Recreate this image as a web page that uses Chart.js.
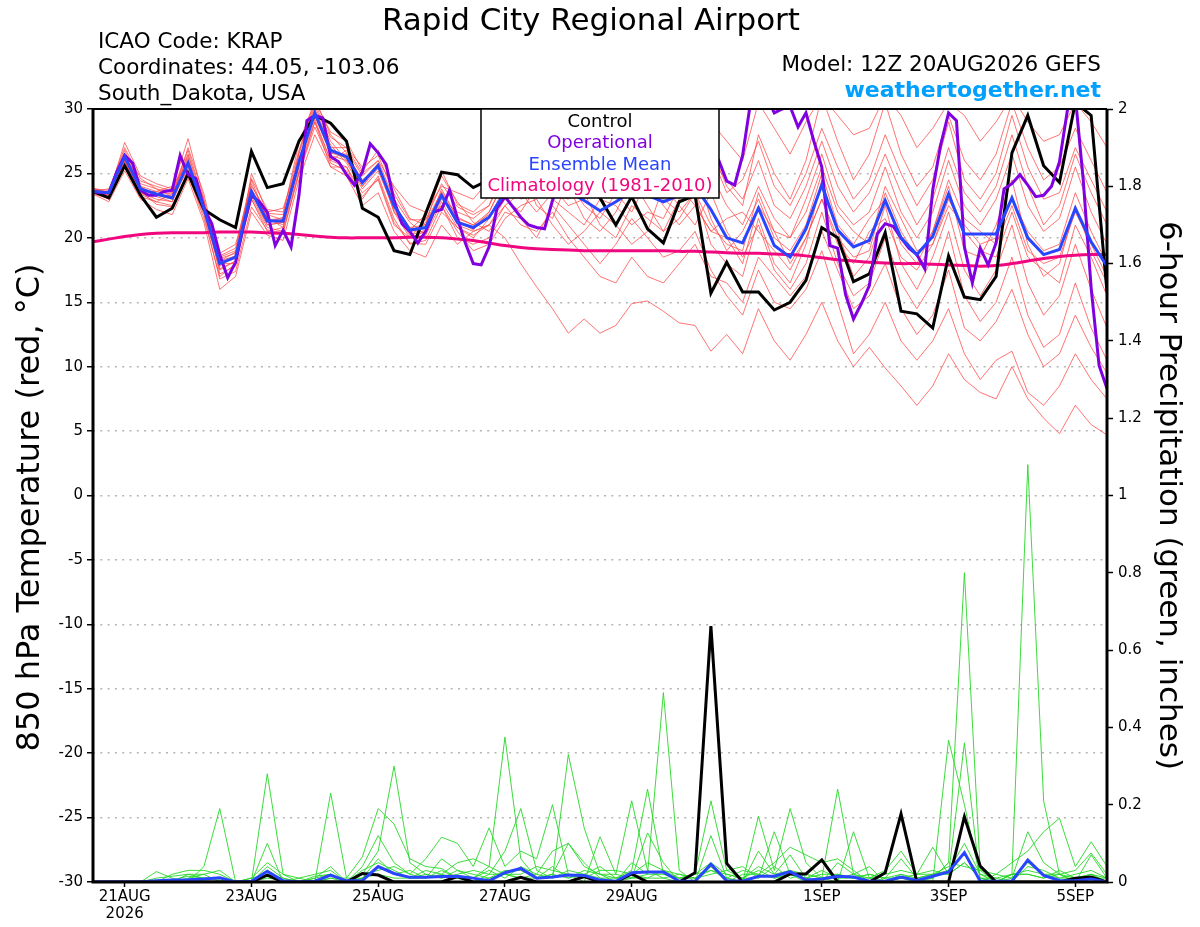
<!DOCTYPE html>
<html>
<head>
<meta charset="utf-8">
<script src="https://cdn.jsdelivr.net/npm/chart.js@4.4.1/dist/chart.umd.min.js"></script>
<style>
html, body { margin: 0; padding: 0; background: #fff; }
#wrap { width: 1200px; height: 927px; }
</style>
</head>
<body>
<div id="wrap"><canvas id="chart" width="1200" height="927" style="width:1200px;height:927px"></canvas></div>
<script>
// 6-hourly steps from 12Z 20AUG2026 (65 points), operational run is 3-hourly (129 points)

const xTickHours = [12, 60, 108, 156, 204, 276, 324, 372];
const xTickLabels = [["21AUG", "2026"], "23AUG", "25AUG", "27AUG", "29AUG", "1SEP", "3SEP", "5SEP"];

// 850 hPa temperature, C

const controlTemp = [
  23.6, 23.1, 25.6, 23.3, 21.6, 22.3, 25.0, 22.2, 21.4, 20.8,
  26.7, 23.9, 24.2, 27.5, 29.5, 28.9, 27.5, 22.3, 21.6, 19.0,
  18.7, 21.9, 25.1, 24.9, 23.9, 24.5, 25.5, 24.8, 25.5, 26.0,
  25.0, 24.0, 23.1, 21.0, 23.2, 20.7, 19.6, 22.8, 23.3, 15.7,
  18.1, 15.8, 15.8, 14.4, 15.0, 16.7, 20.8, 20.0, 16.6, 17.2,
  20.4, 14.3, 14.1, 13.0, 18.6, 15.4, 15.2, 17.0, 26.6, 29.5,
  25.6, 24.3, 30.5, 29.5, 15.8
];

const meanTemp = [
  23.6, 23.5, 26.3, 23.8, 23.4, 23.1, 25.8, 22.3, 18.0, 18.5,
  23.6, 21.3, 21.3, 25.9, 29.7, 26.8, 26.3, 24.3, 25.6, 22.5,
  20.6, 20.8, 23.3, 21.2, 20.8, 21.6, 23.5, 24.0, 23.8, 24.2,
  23.6, 22.9, 22.1, 22.8, 23.6, 23.3, 22.8, 23.3, 24.0, 22.2,
  20.0, 19.6, 22.3, 19.4, 18.5, 20.7, 24.1, 20.6, 19.3, 19.8,
  22.9, 20.0, 18.7, 20.1, 23.4, 20.3, 20.3, 20.3, 23.1, 20.0,
  18.7, 19.1, 22.3, 19.7, 17.8
];

const climTemp = [
  19.7, 19.9, 20.1, 20.25, 20.35, 20.4, 20.4, 20.4, 20.45, 20.45,
  20.45, 20.4, 20.35, 20.25, 20.15, 20.05, 20.0, 20.0, 20.0, 20.0,
  20.05, 20.05, 20.0, 19.9, 19.8, 19.6, 19.4, 19.25, 19.15, 19.1,
  19.05, 19.0, 19.0, 19.0, 19.0, 19.0, 19.0, 18.95, 18.95, 18.9,
  18.85, 18.8, 18.8, 18.75, 18.7, 18.6, 18.45, 18.3, 18.2, 18.1,
  18.05, 18.0, 18.0, 17.95, 17.9, 17.85, 17.8, 17.85, 18.0, 18.2,
  18.4, 18.55, 18.65, 18.7, 18.7
];

// operational, 3-hourly, one row per day
const opTemp = [
  23.6, 23.5, 23.5, 25.1, 26.4, 25.8, 23.7, 23.3,
  23.3, 23.6, 23.7, 26.4, 24.9, 24.6, 22.3, 21.1,
  18.7, 16.9, 18.1, 20.9, 23.3, 22.8, 22.0, 19.4,
  20.6, 19.3, 23.3, 29.1, 29.5, 29.3, 26.3, 25.9,
  24.9, 24.1, 25.1, 27.3, 26.6, 25.7, 22.9, 21.1,
  20.5, 19.6, 20.5, 22.0, 22.2, 23.7, 21.5, 19.6,
  18.0, 17.9, 19.3, 22.3, 23.2, 22.4, 21.6, 21.0,
  20.8, 20.7, 22.9, 24.5, 25.5, 26.0, 25.0, 24.5,
  25.5, 26.5, 26.0, 25.0, 25.5, 26.0, 25.5, 24.5,
  25.0, 26.0, 25.5, 25.0, 25.5, 26.5, 27.0, 26.0,
  24.4, 24.1, 26.4, 30.5, 31.0, 31.0, 29.7, 30.0,
  30.2, 28.6, 29.7, 27.5, 25.5, 19.4, 19.2, 15.6,
  13.7, 14.9, 16.3, 20.3, 21.1, 20.9, 20.0, 19.2,
  18.7, 17.6, 23.7, 27.2, 29.7, 29.1, 19.3, 16.5,
  19.2, 17.9, 19.6, 23.8, 24.2, 24.9, 24.1, 23.2,
  23.3, 24.0, 25.9, 29.9, 31.0, 24.5, 16.1, 10.1,
  8.3
];

// ensemble members (temperature)
const m01 = [
  23.9, 23.4, 27.4, 24.8, 24.2, 23.8, 27.7, 23.0, 17.2, 17.8,
  25.0, 21.9, 21.8, 27.4, 30.6, 28.2, 27.5, 25.2, 26.8, 23.8,
  21.5, 21.0, 25.2, 22.6, 22.0, 23.2, 26.8, 25.4, 25.0, 27.5,
  26.0, 24.5, 23.5, 26.2, 28.4, 26.5, 25.0, 27.0, 30.5, 27.0,
  24.0, 22.5, 28.0, 25.0, 23.0, 26.0, 31.0, 27.5, 24.5, 26.5,
  30.5, 26.5, 24.0, 25.5, 29.5, 26.0, 24.5, 26.5, 30.5, 27.0,
  24.5, 25.5, 28.5, 26.0, 23.5
];
const m02 = [
  23.4, 22.8, 25.2, 23.0, 22.2, 21.8, 24.6, 21.2, 16.0, 17.0,
  22.0, 20.2, 19.8, 24.5, 28.0, 25.5, 24.8, 22.5, 23.5, 20.5,
  19.0, 18.5, 21.0, 19.5, 20.5, 21.0, 20.0, 18.0, 16.2, 14.5,
  12.6, 13.7, 12.6, 13.2, 14.9, 15.1, 14.3, 13.4, 13.2, 11.2,
  12.5, 11.0, 14.5, 12.0, 10.5, 12.5, 15.0, 12.0, 10.0, 11.5,
  9.9, 8.5, 7.0, 8.5, 11.0, 9.0, 8.0, 7.5, 10.0, 7.5,
  6.0, 4.8, 7.0, 5.5, 4.7
];
const m03 = [
  23.7, 23.0, 26.0, 23.5, 23.0, 22.8, 25.5, 22.0, 17.5, 18.2,
  23.0, 20.8, 20.5, 25.0, 29.0, 26.0, 25.5, 23.0, 24.8, 21.5,
  19.5, 19.8, 22.5, 20.0, 19.5, 20.0, 22.0, 21.5, 20.0, 22.5,
  21.0, 19.5, 18.0, 19.5, 21.5, 20.0, 18.5, 19.0, 20.5, 17.5,
  15.5, 14.0, 17.5, 15.0, 14.5, 16.0, 19.0, 15.0, 11.0, 12.5,
  15.0, 12.0, 10.5, 12.0, 14.5, 11.0, 9.0, 10.5, 11.2, 8.0,
  7.0, 8.5, 11.0, 9.0, 7.5
];
const m04 = [
  23.5, 23.6, 26.8, 24.2, 23.8, 23.5, 26.5, 22.8, 18.5, 19.0,
  24.2, 21.5, 21.0, 26.5, 30.2, 27.5, 26.0, 24.0, 25.8, 22.0,
  20.0, 20.5, 23.8, 21.5, 21.0, 22.0, 24.5, 23.0, 23.5, 25.5,
  24.0, 21.5, 20.5, 22.0, 24.5, 22.5, 20.5, 21.5, 23.5, 19.5,
  18.0, 17.0, 21.5, 18.0, 16.5, 19.5, 24.5, 20.5, 17.0, 18.5,
  22.5, 18.0, 16.0, 18.5, 22.0, 17.5, 15.5, 17.5, 21.0, 16.5,
  14.0, 15.5, 19.5, 16.0, 13.0
];
const m05 = [
  23.6, 23.8, 26.5, 24.0, 23.6, 24.0, 25.8, 22.5, 18.8, 19.5,
  24.0, 22.0, 22.3, 26.0, 29.5, 27.0, 27.0, 25.0, 26.0, 24.0,
  22.5, 22.0, 24.0, 23.5, 23.0, 24.5, 27.5, 26.0, 26.5, 29.0,
  28.0, 26.5, 25.5, 28.5, 30.5, 29.0, 27.5, 29.5, 31.0, 29.0,
  27.5, 26.0, 30.5, 28.5, 26.5, 29.0, 31.0, 29.5, 28.0, 28.5,
  31.0, 29.5, 27.0, 28.5, 30.5, 29.5, 27.5, 29.0, 31.0, 29.0,
  27.5, 28.0, 30.5, 29.0, 27.0
];
const m06 = [
  23.5, 23.2, 26.0, 23.2, 22.8, 22.5, 25.0, 21.5, 17.0, 18.0,
  23.0, 20.5, 20.8, 25.2, 29.0, 25.5, 25.5, 23.5, 24.5, 21.0,
  20.0, 21.5, 22.5, 20.5, 19.0, 19.5, 21.5, 22.5, 23.0, 21.0,
  19.5, 20.5, 22.0, 21.0, 19.5, 20.5, 24.0, 22.5, 21.0, 23.5,
  20.5, 18.5, 21.0, 17.5, 16.0, 18.0, 22.0, 18.0, 15.5, 16.5,
  20.0, 16.5, 14.5, 16.5, 20.5, 15.5, 13.5, 15.0, 18.5, 14.0,
  11.5, 12.5, 16.5, 13.0, 10.5
];
const m07 = [
  23.8, 23.5, 26.2, 23.8, 23.3, 23.0, 25.8, 22.2, 18.2, 18.6,
  23.5, 21.2, 21.6, 26.0, 29.8, 26.6, 26.5, 24.5, 25.5, 22.6,
  20.8, 21.0, 23.5, 21.0, 20.5, 21.0, 23.0, 24.5, 25.5, 24.0,
  22.5, 23.0, 24.5, 23.5, 22.0, 24.5, 26.0, 24.5, 23.5, 25.0,
  22.5, 21.0, 24.0, 21.5, 20.0, 23.0, 26.5, 22.5, 21.0, 22.0,
  25.5, 22.0, 20.0, 22.0, 26.0, 22.5, 21.0, 23.0, 26.5, 22.5,
  20.5, 21.5, 25.5, 22.0, 19.5
];
const m08 = [
  23.6, 23.3, 25.6, 23.6, 23.6, 23.4, 25.2, 22.6, 18.4, 18.8,
  23.2, 21.0, 21.2, 25.5, 29.2, 26.0, 26.8, 24.8, 26.0, 23.0,
  21.2, 20.2, 22.8, 20.8, 20.0, 21.5, 24.0, 25.5, 22.5, 21.5,
  24.5, 23.5, 21.0, 20.0, 22.5, 21.5, 20.5, 23.0, 25.5, 21.5,
  19.0, 20.5, 23.0, 20.0, 19.0, 21.0, 25.0, 21.0, 19.5, 21.5,
  23.0, 19.5, 18.0, 20.5, 24.0, 19.0, 18.5, 21.0, 24.5, 19.5,
  17.0, 18.0, 22.5, 19.0, 16.5
];
const m09 = [
  23.4, 23.1, 26.6, 23.4, 22.8, 23.4, 26.2, 22.0, 17.6, 18.2,
  23.8, 21.6, 20.8, 25.8, 30.0, 27.2, 25.8, 23.8, 25.2, 22.2,
  20.2, 20.6, 23.0, 22.0, 21.5, 22.5, 25.0, 24.0, 24.5, 26.5,
  25.0, 24.0, 23.0, 24.0, 26.5, 24.0, 23.0, 22.0, 23.5, 21.0,
  19.5, 19.0, 23.5, 20.5, 20.0, 22.0, 25.5, 22.0, 20.5, 19.5,
  24.0, 21.5, 19.0, 19.5, 23.0, 20.5, 19.0, 18.5, 22.0, 18.5,
  17.5, 16.5, 21.0, 18.5, 15.5
];
const m10 = [
  23.7, 23.6, 25.9, 24.0, 23.2, 22.8, 26.0, 22.6, 18.2, 18.9,
  24.5, 21.4, 21.5, 26.2, 29.4, 26.6, 26.2, 24.0, 25.4, 22.8,
  20.4, 21.2, 23.6, 21.6, 21.0, 21.8, 23.0, 22.0, 24.0, 23.0,
  22.0, 21.0, 23.0, 22.5, 21.0, 22.0, 21.5, 24.0, 22.5, 20.5,
  21.5, 22.0, 20.5, 19.0, 17.5, 20.0, 23.0, 19.5, 18.0, 20.5,
  21.5, 18.5, 17.5, 19.5, 22.5, 21.0, 19.5, 20.0, 23.0, 20.5,
  19.0, 19.5, 23.5, 20.5, 18.0
];
const m11 = [
  23.6, 23.4, 26.4, 24.4, 24.0, 23.6, 26.8, 22.9, 18.6, 19.2,
  24.6, 22.2, 22.0, 26.8, 30.4, 27.8, 27.0, 25.5, 26.4, 23.4,
  21.4, 21.4, 24.2, 22.4, 21.8, 22.5, 25.5, 26.5, 27.0, 25.5,
  26.5, 27.5, 26.0, 25.0, 27.0, 28.0, 26.0, 25.5, 28.0, 26.5,
  23.5, 24.5, 27.5, 24.0, 22.5, 25.0, 28.5, 25.5, 23.0, 24.5,
  28.0, 25.0, 22.5, 24.5, 29.0, 24.5, 23.0, 25.0, 29.5, 25.5,
  23.0, 23.5, 27.0, 24.5, 22.0
];
const m12 = [
  23.5, 23.0, 26.1, 23.6, 22.6, 22.4, 24.8, 21.8, 16.8, 17.4,
  22.4, 20.6, 20.4, 25.0, 28.6, 25.8, 25.2, 23.2, 24.6, 21.2,
  19.6, 19.5, 22.0, 20.8, 20.2, 21.0, 22.5, 21.0, 20.5, 22.0,
  20.0, 18.5, 17.0, 16.5, 18.5, 17.0, 16.5, 18.0, 19.5, 17.0,
  16.5, 15.0, 18.5, 17.0, 15.5, 17.0, 20.5, 17.5, 14.5, 15.5,
  18.0, 14.5, 12.5, 14.0, 17.5, 13.0, 12.0, 13.5, 16.0, 12.5,
  10.0, 11.0, 14.0, 11.5, 9.5
];
const m13 = [
  23.8, 23.7, 27.0, 24.6, 23.8, 23.2, 27.0, 23.4, 18.0, 18.0,
  23.4, 21.8, 21.4, 26.6, 30.8, 28.0, 26.6, 24.4, 25.8, 22.4,
  20.6, 21.8, 24.8, 22.8, 21.2, 20.5, 22.5, 23.5, 22.0, 23.5,
  23.0, 25.5, 27.0, 24.5, 23.0, 25.0, 27.5, 26.5, 24.5, 26.0,
  24.5, 23.0, 26.0, 22.5, 21.5, 24.0, 27.5, 24.0, 22.0, 23.5,
  26.5, 23.5, 21.0, 23.0, 27.0, 23.5, 22.0, 24.0, 28.0, 24.0,
  21.0, 22.5, 26.5, 23.5, 21.0
];
const m14 = [
  23.5, 23.3, 26.0, 23.4, 23.4, 23.2, 26.4, 22.4, 17.8, 18.6,
  23.6, 21.0, 21.2, 25.6, 29.6, 26.4, 26.0, 24.2, 25.6, 22.0,
  20.6, 20.4, 23.4, 21.4, 20.6, 22.0, 24.5, 25.0, 26.0, 25.0,
  24.5, 22.5, 21.5, 23.5, 25.5, 24.5, 22.5, 21.0, 22.5, 20.5,
  20.0, 18.0, 22.5, 20.5, 18.0, 20.0, 23.0, 20.0, 18.5, 19.0,
  23.5, 20.5, 18.5, 20.5, 24.5, 21.5, 20.5, 19.5, 22.5, 19.0,
  18.0, 18.5, 22.0, 19.5, 17.0
];
const tempMembers = [m01, m02, m03, m04, m05, m06, m07, m08, m09, m10, m11, m12, m13, m14];

// 6-hour precipitation, inches

const controlPrecip = [
  0, 0, 0, 0, 0, 0, 0, 0, 0, 0,
  0, 0.018, 0, 0, 0, 0, 0, 0.022, 0.018, 0,
  0, 0, 0, 0.014, 0, 0, 0, 0.012, 0, 0,
  0, 0.014, 0, 0, 0.021, 0, 0, 0, 0.024, 0.662,
  0.048, 0, 0, 0, 0.021, 0.021, 0.057, 0, 0, 0,
  0.024, 0.176, 0, 0, 0, 0.169, 0.041, 0, 0, 0,
  0, 0, 0.01, 0.013, 0
];

const meanPrecip = [
  0, 0, 0, 0, 0.003, 0.005, 0.006, 0.008, 0.011, 0,
  0.002, 0.028, 0.003, 0, 0.002, 0.018, 0.003, 0.004, 0.040, 0.022,
  0.012, 0.012, 0.014, 0.015, 0.010, 0.003, 0.024, 0.035, 0.010, 0.013,
  0.018, 0.017, 0.005, 0.002, 0.024, 0.026, 0.026, 0.002, 0.002, 0.046,
  0.003, 0.002, 0.015, 0.015, 0.027, 0.005, 0.008, 0.015, 0.013, 0.002,
  0.002, 0.013, 0.004, 0.015, 0.026, 0.076, 0.002, 0.002, 0.002, 0.057,
  0.017, 0.004, 0.003, 0.008, 0
];

const g01 = [
  0, 0, 0, 0, 0.027, 0.01, 0, 0.04, 0.19, 0,
  0, 0.28, 0.02, 0, 0.01, 0.04, 0, 0.02, 0.08, 0.30,
  0.05, 0.02, 0.01, 0.03, 0.01, 0.04, 0.375, 0.06, 0.01, 0.02,
  0.1, 0.05, 0.01, 0, 0.05, 0.02, 0.49, 0.03, 0, 0.04,
  0.01, 0, 0.08, 0.02, 0.07, 0.01, 0, 0.05, 0.02, 0,
  0, 0.02, 0, 0.01, 0.05, 0.80, 0.03, 0, 0.01, 0.13,
  0.05, 0.02, 0, 0.07, 0.01
];
const g02 = [
  0, 0, 0, 0, 0, 0.02, 0.03, 0.03, 0.02, 0,
  0, 0.1, 0, 0, 0, 0.23, 0.01, 0.065, 0.19, 0.15,
  0.06, 0.04, 0.035, 0.01, 0, 0.02, 0.08, 0.19, 0.03, 0.01,
  0.33, 0.14, 0.02, 0, 0.01, 0.127, 0.05, 0, 0.02, 0.21,
  0.03, 0.04, 0.01, 0.13, 0.02, 0, 0.01, 0.24, 0.02, 0.04,
  0, 0.01, 0, 0, 0.367, 0.2, 0.01, 0, 0.02, 1.08,
  0.21, 0.02, 0, 0.02, 0
];
const g03 = [
  0, 0, 0, 0, 0, 0, 0.02, 0.02, 0.03, 0,
  0.01, 0.05, 0.02, 0.01, 0.02, 0.03, 0, 0.04, 0.12, 0.05,
  0.02, 0.06, 0.116, 0.10, 0.04, 0.14, 0.04, 0.08, 0.06, 0.2,
  0.02, 0, 0.117, 0.02, 0.21, 0.03, 0.01, 0, 0, 0.12,
  0.01, 0, 0.17, 0.03, 0.19, 0.05, 0.01, 0, 0.13, 0.01,
  0.03, 0.08, 0.02, 0.09, 0.02, 0.36, 0, 0.02, 0.05, 0.08,
  0.13, 0.165, 0.04, 0.104, 0.04
];
const g04 = [
  0, 0, 0, 0, 0.01, 0.015, 0.02, 0.01, 0.01, 0,
  0, 0.03, 0, 0, 0.015, 0.02, 0, 0.01, 0.06, 0.02,
  0.01, 0.03, 0.02, 0.05, 0.06, 0.04, 0.02, 0.01, 0.02, 0.08,
  0.1, 0.04, 0.02, 0.01, 0.03, 0.24, 0.02, 0.01, 0.01, 0.04,
  0, 0.02, 0.02, 0.05, 0.09, 0.07, 0.05, 0.06, 0.03, 0,
  0.01, 0.06, 0.01, 0.02, 0.03, 0.1, 0.02, 0, 0.02, 0.03,
  0.02, 0.02, 0.03, 0.075, 0.02
];
const g05 = [
  0, 0, 0, 0, 0, 0, 0.01, 0.02, 0, 0,
  0.01, 0.02, 0.01, 0, 0, 0.01, 0, 0.02, 0.03, 0.04,
  0.02, 0.01, 0.06, 0.03, 0.02, 0.01, 0.03, 0.03, 0.01, 0.02,
  0.01, 0.02, 0.04, 0.01, 0.02, 0.05, 0.03, 0.01, 0.02, 0.03,
  0.02, 0.01, 0.04, 0.02, 0.03, 0.02, 0.01, 0.02, 0.01, 0.02,
  0.01, 0.02, 0.01, 0.01, 0.05, 0.04, 0.03, 0.02, 0.01, 0.05,
  0.02, 0.01, 0.02, 0.03, 0.01
];
const g06 = [
  0, 0, 0, 0, 0, 0.005, 0.015, 0.01, 0.005, 0,
  0, 0.04, 0.01, 0, 0, 0.02, 0, 0.03, 0.05, 0.03,
  0.01, 0.02, 0.01, 0.02, 0.03, 0.02, 0.02, 0.02, 0.04, 0.03,
  0.02, 0.01, 0.03, 0.03, 0.02, 0.01, 0.01, 0.02, 0.01, 0.03,
  0.01, 0.03, 0.02, 0.01, 0.02, 0.01, 0.02, 0.02, 0.01, 0.01,
  0.02, 0.03, 0.02, 0.03, 0.02, 0.05, 0.01, 0, 0.02, 0.02,
  0.01, 0.03, 0.01, 0.02, 0
];
const g07 = [
  0, 0, 0, 0, 0, 0, 0.005, 0.01, 0.01, 0,
  0, 0.02, 0, 0.01, 0, 0.01, 0.01, 0.01, 0.04, 0.02,
  0.03, 0.01, 0.02, 0.01, 0.01, 0.03, 0.01, 0.04, 0.02, 0.01,
  0.03, 0.02, 0.01, 0.01, 0.01, 0.02, 0.02, 0.01, 0.02, 0.05,
  0.02, 0.01, 0.01, 0.04, 0.01, 0.02, 0.01, 0.01, 0.02, 0.01,
  0, 0.01, 0.02, 0.02, 0.04, 0.07, 0.02, 0.01, 0, 0.04,
  0.03, 0.01, 0.01, 0.01, 0.01
];
const g08 = [
  0, 0, 0, 0, 0, 0, 0, 0.005, 0.01, 0,
  0, 0.01, 0.005, 0, 0.01, 0.02, 0, 0.01, 0.02, 0.01,
  0.01, 0.01, 0.03, 0.01, 0, 0.01, 0.02, 0.01, 0.01, 0.04,
  0.01, 0.03, 0.02, 0.02, 0.01, 0.01, 0.03, 0.02, 0.01, 0.02,
  0.03, 0.01, 0.03, 0.01, 0.02, 0.01, 0.03, 0.01, 0.01, 0.02,
  0.01, 0.01, 0.01, 0.02, 0.02, 0.05, 0.01, 0.01, 0.02, 0.02,
  0.01, 0.02, 0.01, 0.02, 0.01
];
const precipMembers = [g01, g02, g03, g04, g05, g06, g07, g08];


// HELPERS

const sixHourly = (arr) => arr.map((v, i) => ({ x: i * 6, y: v }));
const threeHourly = (arr) => arr.map((v, i) => ({ x: i * 3, y: v }));

const FONT = "DejaVu Sans";
Chart.defaults.font.family = FONT;
Chart.defaults.color = "#000";

function thinLine(data, color, axis) {
  return {
    data: sixHourly(data),
    yAxisID: axis,
    borderColor: color,
    borderWidth: 1,
    pointRadius: 0,
    tension: 0,
    order: 10
  };
}

function thickLine(data, color, axis, order) {
  return {
    data: data,
    yAxisID: axis,
    borderColor: color,
    borderWidth: 3,
    pointRadius: 0,
    tension: 0,
    order: order
  };
}


// DATASETS

const datasets = [];

tempMembers.forEach(m => datasets.push(thinLine(m, "rgba(255,70,70,0.75)", "y")));
precipMembers.forEach(m => datasets.push(thinLine(m, "rgba(40,215,40,0.9)", "y2")));

datasets.push(thickLine(sixHourly(controlPrecip), "#000000", "y2", 4));
datasets.push(thickLine(sixHourly(meanPrecip), "#2a45ff", "y2", 3));

const clim = thickLine(sixHourly(climTemp), "#f0077f", "y", 5);
clim.tension = 0.4;
datasets.push(clim);

datasets.push(thickLine(sixHourly(controlTemp), "#000000", "y", 3));
datasets.push(thickLine(threeHourly(opTemp), "#8000e0", "y", 2));
datasets.push(thickLine(sixHourly(meanTemp), "#2a45ff", "y", 1));


// TEXT, FRAME AND LEGEND BOX

const decorations = {

  id: "decorations",

  afterDraw(chart) {

    const c = chart.ctx;
    const a = chart.chartArea;

    c.save();

    // frame
    c.strokeStyle = "#000";
    c.lineWidth = 3;
    c.beginPath();
    c.moveTo(a.left, a.top);
    c.lineTo(a.left, a.bottom);
    c.lineTo(a.right, a.bottom);
    c.lineTo(a.right, a.top);
    c.stroke();
    c.lineWidth = 2;
    c.beginPath();
    c.moveTo(a.left, a.top);
    c.lineTo(a.right, a.top);
    c.stroke();

    // legend box
    c.fillStyle = "#fff";
    c.fillRect(481, 109, 238, 89);
    c.lineWidth = 1.5;
    c.strokeRect(481, 109, 238, 89);

    c.textAlign = "center";
    c.textBaseline = "alphabetic";
    c.font = "18px '" + FONT + "'";
    c.fillStyle = "#000";
    c.fillText("Control", 600, 127);
    c.fillStyle = "#8000e0";
    c.fillText("Operational", 600, 148);
    c.fillStyle = "#2a45ff";
    c.fillText("Ensemble Mean", 600, 169.5);
    c.fillStyle = "#f0077f";
    c.fillText("Climatology (1981-2010)", 600, 191);

    // title
    c.fillStyle = "#000";
    c.font = "31px '" + FONT + "'";
    c.fillText("Rapid City Regional Airport", 591, 30);

    // station info
    c.textAlign = "left";
    c.font = "21.5px '" + FONT + "'";
    c.fillText("ICAO Code: KRAP", 98, 48);
    c.fillText("Coordinates: 44.05, -103.06", 98, 74);
    c.fillText("South_Dakota, USA", 98, 100);

    c.textAlign = "right";
    c.fillText("Model: 12Z 20AUG2026 GEFS", 1101, 71);
    c.fillStyle = "#00a0ff";
    c.font = "bold 22px '" + FONT + "'";
    c.fillText("weathertogether.net", 1101, 97);

    // axis titles
    c.fillStyle = "#000";
    c.textAlign = "center";
    c.textBaseline = "middle";

    c.save();
    c.font = "32px '" + FONT + "'";
    c.translate(31, (a.top + a.bottom) / 2 + 12);
    c.rotate(-Math.PI / 2);
    c.fillText("850 hPa Temperature (red, \u00b0C)", 0, 0);
    c.restore();

    c.save();
    c.font = "31px '" + FONT + "'";
    c.translate(1168, (a.top + a.bottom) / 2);
    c.rotate(Math.PI / 2);
    c.fillText("6-hour Precipitation (green, inches)", 0, 0);
    c.restore();

    c.restore();
  }
};


// CHART

const ctx = document.getElementById("chart");

new Chart(ctx, {

  type: "line",

  data: { datasets: datasets },

  plugins: [decorations],

  options: {

    responsive: false,
    animation: false,
    devicePixelRatio: 1,

    layout: { padding: { top: 109, left: 0, right: 0, bottom: 0 } },

    plugins: {
      legend: { display: false },
      title: { display: false },
      tooltip: { enabled: false }
    },

    scales: {

      x: {
        type: "linear",
        min: 0,
        max: 384,
        offset: false,
        afterBuildTicks: (scale) => {
          scale.ticks = xTickHours.map(h => ({ value: h }));
        },
        afterFit: (scale) => { scale.height = 45; },
        ticks: {
          autoSkip: false,
          maxRotation: 0,
          padding: 2,
          font: { size: 15, lineHeight: 1.1 },
          callback: (value, index) => xTickLabels[index]
        },
        grid: {
          drawOnChartArea: false,
          drawTicks: true,
          tickLength: 5,
          tickColor: "#000",
          tickWidth: 1.5
        },
        border: { display: false }
      },

      y: {
        position: "left",
        min: -30,
        max: 30,
        afterFit: (scale) => { scale.width = 93; },
        ticks: {
          stepSize: 5,
          padding: 4,
          font: { size: 15 }
        },
        grid: {
          color: "#b4b4b4",
          lineWidth: 1.5,
          tickLength: 6,
          tickColor: "#000",
          tickWidth: 1.5,
          tickBorderDash: []
        },
        border: { display: false, dash: [2, 5.3] }
      },

      y2: {
        position: "right",
        min: 0,
        max: 2,
        afterFit: (scale) => { scale.width = 93; },
        ticks: {
          stepSize: 0.2,
          padding: 5,
          font: { size: 15 },
          callback: (value) => String(Number(value.toFixed(1)))
        },
        grid: {
          drawOnChartArea: false,
          tickLength: 6,
          tickColor: "#000",
          tickWidth: 1.5
        },
        border: { display: false }
      }
    }
  }
});
</script>
</body>
</html>
